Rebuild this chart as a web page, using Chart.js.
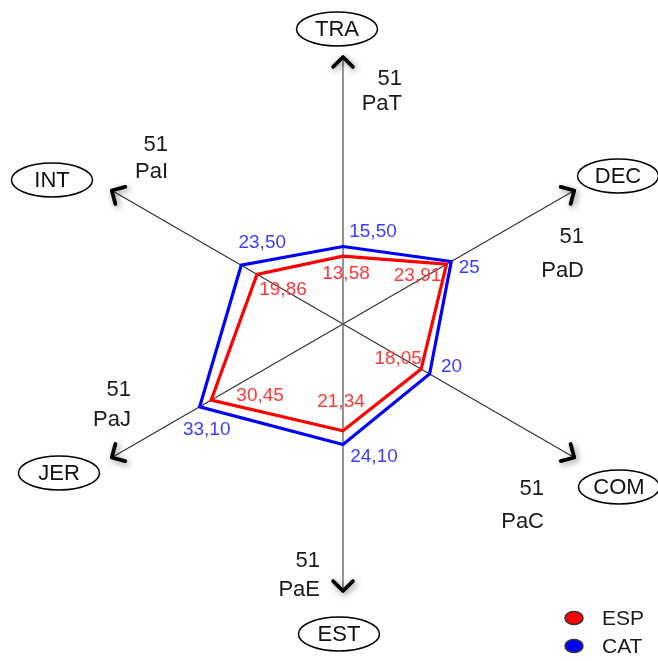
<!DOCTYPE html>
<html>
<head>
<meta charset="utf-8">
<script src="https://cdn.jsdelivr.net/npm/chart.js@4.4.1/dist/chart.umd.min.js"></script>
<style>
html,body{margin:0;padding:0;background:#fff;}
#wrap{width:658px;height:661px;position:relative;}
</style>
</head>
<body>
<div id="wrap"><canvas id="c"></canvas></div>
<script>
// ---- data ----
const categories = ['TRA', 'DEC', 'COM', 'EST', 'JER', 'INT'];
const maxNames = ['PaT', 'PaD', 'PaC', 'PaE', 'PaJ', 'PaI'];
const maxValues = [51, 51, 51, 51, 51, 51];
const seriesNames = ['ESP', 'CAT'];
const espValues = [13.58, 23.91, 18.05, 21.34, 30.45, 19.86];
const catValues = [15.50, 25, 20, 24.10, 33.10, 23.50];
const axisMax = 53.4;

// ---- layout / style (not data) ----
const ellipseBoxes = [
  {x: 337, y: 29}, {x: 618, y: 176}, {x: 619, y: 487},
  {x: 339, y: 634}, {x: 59, y: 473}, {x: 52, y: 180}
];
const maxLabelPos = [
  {x: 402, y1: 79, y2: 104}, {x: 584, y1: 237, y2: 271}, {x: 544, y1: 489, y2: 522},
  {x: 320, y1: 561, y2: 590}, {x: 131, y1: 390, y2: 420}, {x: 168, y1: 145, y2: 172}
];
const labelOffsets = [
  [[3, 18], [-29, 12], [-23, -10], [-2, -29], [49, -4], [26, 15]],   // ESP
  [[30, -15], [18, 6], [22, -7], [31, 12], [7, 23], [21, -22]]       // CAT
];
const textColors = ['#ff3838', '#3c3cff'];
const FONT = '"Liberation Sans", Arial, sans-serif';

function fmt(v) {
  if (Number.isInteger(v)) return String(v);
  return v.toFixed(2).replace('.', ',');
}

const decoPlugin = {
  id: 'deco',
  afterDatasetsDraw(chart) {
    const ctx = chart.ctx;
    const r = chart.scales.r;
    const n = categories.length;
    // arrowheads
    for (let i = 0; i < n; i++) {
      const tip = r.getPointPosition(i, r.drawingArea);
      const ang = Math.atan2(tip.y - r.yCenter, tip.x - r.xCenter);
      const L = 14, a = Math.PI / 4;
      ctx.save();
      ctx.shadowColor = 'rgba(0,0,0,0.45)';
      ctx.shadowBlur = 6;
      ctx.shadowOffsetX = 2;
      ctx.shadowOffsetY = 2;
      ctx.strokeStyle = '#000';
      ctx.lineWidth = 3.8;
      ctx.lineCap = 'round';
      ctx.lineJoin = 'round';
      ctx.beginPath();
      ctx.moveTo(tip.x - L * Math.cos(ang - a), tip.y - L * Math.sin(ang - a));
      ctx.lineTo(tip.x, tip.y);
      ctx.lineTo(tip.x - L * Math.cos(ang + a), tip.y - L * Math.sin(ang + a));
      ctx.stroke();
      ctx.restore();
    }
    ctx.save();
    // category ellipses
    ctx.font = '22px ' + FONT;
    ctx.textAlign = 'center';
    ctx.textBaseline = 'middle';
    for (let i = 0; i < n; i++) {
      const b = ellipseBoxes[i];
      ctx.beginPath();
      ctx.ellipse(b.x, b.y, 40.5, 17, 0, 0, Math.PI * 2);
      ctx.fillStyle = '#fff';
      ctx.fill();
      ctx.strokeStyle = '#000';
      ctx.lineWidth = 1.5;
      ctx.stroke();
      ctx.fillStyle = '#111';
      ctx.fillText(categories[i], b.x, b.y + 1);
    }
    // max labels
    ctx.textAlign = 'right';
    ctx.font = '22px ' + FONT;
    ctx.fillStyle = '#1a1a1a';
    for (let i = 0; i < n; i++) {
      const p = maxLabelPos[i];
      ctx.fillText(String(maxValues[i]), p.x, p.y1);
      ctx.fillText(maxNames[i], p.x, p.y2);
    }
    // value labels
    ctx.textAlign = 'center';
    ctx.font = '19px ' + FONT;
    chart.data.datasets.forEach((ds, di) => {
      const meta = chart.getDatasetMeta(di);
      meta.data.forEach((pt, i) => {
        const off = labelOffsets[di][i];
        ctx.fillStyle = textColors[di];
        ctx.fillText(fmt(ds.data[i]), pt.x + off[0], pt.y + off[1]);
      });
    });
    // legend
    chart.data.datasets.forEach((ds, di) => {
      const y = 618 + di * 28;
      ctx.beginPath();
      ctx.ellipse(574, y, 9, 6.5, 0, 0, Math.PI * 2);
      ctx.fillStyle = ds.borderColor;
      ctx.fill();
      ctx.strokeStyle = '#333';
      ctx.lineWidth = 1.5;
      ctx.stroke();
      ctx.fillStyle = '#1a1a1a';
      ctx.textAlign = 'left';
      ctx.font = '21px ' + FONT;
      ctx.fillText(ds.label, 602, y + 1);
    });
    ctx.restore();
  }
};

new Chart(document.getElementById('c'), {
  type: 'radar',
  data: {
    labels: categories,
    datasets: [
      { label: seriesNames[0], data: espValues, borderColor: '#ff0000', borderWidth: 3.2, fill: false, pointRadius: 0, pointHoverRadius: 0, tension: 0 },
      { label: seriesNames[1], data: catValues, borderColor: '#0000ff', borderWidth: 3.2, fill: false, pointRadius: 0, pointHoverRadius: 0, tension: 0 }
    ]
  },
  options: {
    responsive: true,
    maintainAspectRatio: false,
    animation: false,
    layout: { padding: { left: 43, right: 15, top: 57, bottom: 69 } },
    plugins: { legend: { display: false }, tooltip: { enabled: false } },
    elements: { line: { borderJoinStyle: 'miter' } },
    scales: {
      r: {
        min: 0,
        max: axisMax,
        startAngle: 0,
        ticks: { display: false },
        grid: { display: false },
        pointLabels: { display: false },
        angleLines: {
          display: true,
          color: (ctx) => (ctx.index === 0 || ctx.index === 3) ? '#7a7a7a' : '#333',
          lineWidth: (ctx) => (ctx.index === 0 || ctx.index === 3) ? 1.6 : 1.2
        }
      }
    }
  },
  plugins: [decoPlugin]
});
</script>
</body>
</html>
